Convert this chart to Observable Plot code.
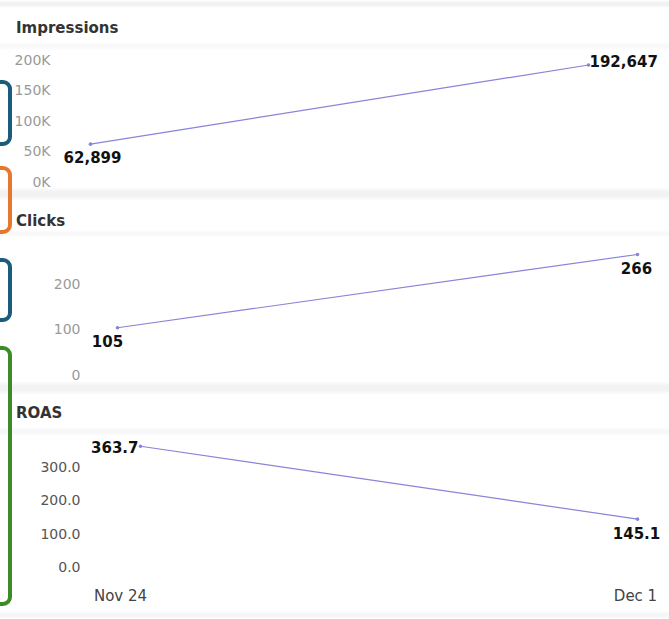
<!DOCTYPE html>
<html>
<head>
<meta charset="utf-8">
<script src="https://cdn.jsdelivr.net/npm/d3@7"></script>
<script src="https://cdn.jsdelivr.net/npm/@observablehq/plot@0.6"></script>
<style>
  html, body { margin: 0; padding: 0; background: #ffffff; }
  #root { position: relative; width: 669px; height: 619px; overflow: hidden; background: #ffffff; font-family: "DejaVu Sans", sans-serif; }
  .band { position: absolute; left: 0; width: 669px; }
  .title { position: absolute; left: 16px; font-weight: bold; font-size: 15px; color: #333; line-height: 18px; }
  .panel { position: absolute; left: 0; top: 0; }
  .mark { position: absolute; left: -16px; width: 20px; border-style: solid; border-width: 4px; border-radius: 9px; }
</style>
</head>
<body>
<div id="root"></div>
<script>
// ---- data ----
const dates = ["2024-11-24", "2024-12-01"];
const impressions = [62899, 192647];
const clicks = [105, 266];
const roas = [363.7, 145.1];
const impressionTicks = [0, 50000, 100000, 150000, 200000];
const clickTicks = [0, 100, 200];
const roasTicks = [0, 100, 200, 300];
const panelTitles = ["Impressions", "Clicks", "ROAS"];

const parsed = dates.map(d => new Date(d + "T00:00:00Z"));
const rows = (vals) => parsed.map((d, i) => ({date: d, value: vals[i]}));
const lineColor = "#8884d8";
const root = document.getElementById("root");

// background bands
const bands = [
  {top: 0, h: 8, c: "#f1f1f1"},
  {top: 42, h: 8, c: "#f8f8f8"},
  {top: 187, h: 14, c: "#f2f2f2"},
  {top: 230, h: 7, c: "#f8f8f8"},
  {top: 381, h: 14, c: "#f2f2f2"},
  {top: 427, h: 9, c: "#f7f7f7"},
  {top: 611, h: 8, c: "#f6f6f6"}
];
for (const b of bands) {
  const el = document.createElement("div");
  el.className = "band";
  el.style.top = b.top + "px";
  el.style.height = b.h + "px";
  el.style.background = `linear-gradient(to bottom, rgba(255,255,255,0), ${b.c} 35%, ${b.c} 65%, rgba(255,255,255,0))`;
  root.appendChild(el);
}

// titles
const titleTops = [19, 212, 404];
panelTitles.forEach((t, i) => {
  const el = document.createElement("div");
  el.className = "title";
  el.style.top = titleTops[i] + "px";
  el.textContent = t;
  root.appendChild(el);
});

function place(svg, top) {
  const wrap = document.createElement("div");
  wrap.className = "panel";
  wrap.style.top = top + "px";
  wrap.appendChild(svg);
  root.appendChild(wrap);
}

const common = {
  width: 669,
  style: {background: "transparent", fontFamily: "DejaVu Sans", fontSize: "14px", overflow: "visible"}
};
const labelStyle = {fontWeight: "bold", fontSize: 15, fill: "#111"};

// Panel 1: Impressions
const d1 = rows(impressions);
place(Plot.plot({
  ...common,
  height: 150,
  marginLeft: 90, marginRight: 81, marginTop: 0, marginBottom: 0,
  x: {type: "utc", domain: parsed, range: [90, 588], axis: null},
  y: {domain: [0, 200000], range: [137, 15]},
  marks: [
    Plot.axisY({ticks: impressionTicks, tickFormat: d => d / 1000 + "K", label: null, tickSize: 0, tickPadding: 40, fontSize: 14, color: "#9a9a9a"}),
    Plot.line(d1, {x: "date", y: "value", stroke: lineColor, strokeWidth: 1.2}),
    Plot.dot(d1, {x: "date", y: "value", r: 1.8, fill: lineColor}),
    Plot.text(d1.slice(0, 1), {x: "date", y: "value", text: d => d3.format(",")(d.value), dx: 2, dy: 14, ...labelStyle}),
    Plot.text(d1.slice(1), {x: "date", y: "value", text: d => d3.format(",")(d.value), textAnchor: "start", dx: 1, dy: -3, ...labelStyle})
  ]
}), 45);

// Panel 2: Clicks
const d2 = rows(clicks);
place(Plot.plot({
  ...common,
  height: 150,
  marginLeft: 117, marginRight: 32, marginTop: 0, marginBottom: 0,
  x: {type: "utc", domain: parsed, range: [117, 637], axis: null},
  y: {domain: [0, 200], range: [138, 47]},
  marks: [
    Plot.axisY({ticks: clickTicks, tickFormat: d => String(d), label: null, tickSize: 0, tickPadding: 37, fontSize: 14, color: "#9a9a9a"}),
    Plot.line(d2, {x: "date", y: "value", stroke: lineColor, strokeWidth: 1.2}),
    Plot.dot(d2, {x: "date", y: "value", r: 1.8, fill: lineColor}),
    Plot.text(d2.slice(0, 1), {x: "date", y: "value", text: d => String(d.value), dx: -10, dy: 14, ...labelStyle}),
    Plot.text(d2.slice(1), {x: "date", y: "value", text: d => String(d.value), dx: -1, dy: 15, ...labelStyle})
  ]
}), 237);

// Panel 3: ROAS
const d3r = rows(roas);
place(Plot.plot({
  ...common,
  height: 150,
  marginLeft: 140, marginRight: 32, marginTop: 0, marginBottom: 0,
  x: {type: "utc", domain: parsed, range: [140, 637], axis: null},
  y: {domain: [0, 300], range: [137, 37]},
  marks: [
    Plot.axisY({ticks: roasTicks, tickFormat: d3.format(".1f"), label: null, tickSize: 0, tickPadding: 60, fontSize: 14, color: "#555"}),
    Plot.line(d3r, {x: "date", y: "value", stroke: lineColor, strokeWidth: 1.2}),
    Plot.dot(d3r, {x: "date", y: "value", r: 1.8, fill: lineColor}),
    Plot.text(d3r.slice(0, 1), {x: "date", y: "value", text: d => d3.format(".1f")(d.value), textAnchor: "end", dx: -2, dy: 2, ...labelStyle}),
    Plot.text(d3r.slice(1), {x: "date", y: "value", text: d => d3.format(".1f")(d.value), dx: -1, dy: 15, ...labelStyle})
  ]
}), 430);

// shared date axis under the last panel
place(Plot.plot({
  ...common,
  height: 40,
  marginLeft: 120, marginRight: 34, marginTop: 0, marginBottom: 30,
  x: {type: "utc", domain: parsed, range: [120, 635]},
  marks: [
    Plot.axisX({ticks: parsed, tickFormat: d3.utcFormat("%b %-d"), label: null, tickSize: 0, tickPadding: 0, fontSize: 15, color: "#444"})
  ]
}), 580);

// highlight brackets on the left edge
const brackets = [
  {top: 80, h: 66, c: "#1b5b7c"},
  {top: 166, h: 68, c: "#e8772e"},
  {top: 258, h: 64, c: "#1b5b7c"},
  {top: 346, h: 260, c: "#3d8a29"}
];
for (const b of brackets) {
  const el = document.createElement("div");
  el.className = "mark";
  el.style.top = b.top + "px";
  el.style.height = (b.h - 8) + "px";
  el.style.borderColor = b.c;
  root.appendChild(el);
}
</script>
</body>
</html>
